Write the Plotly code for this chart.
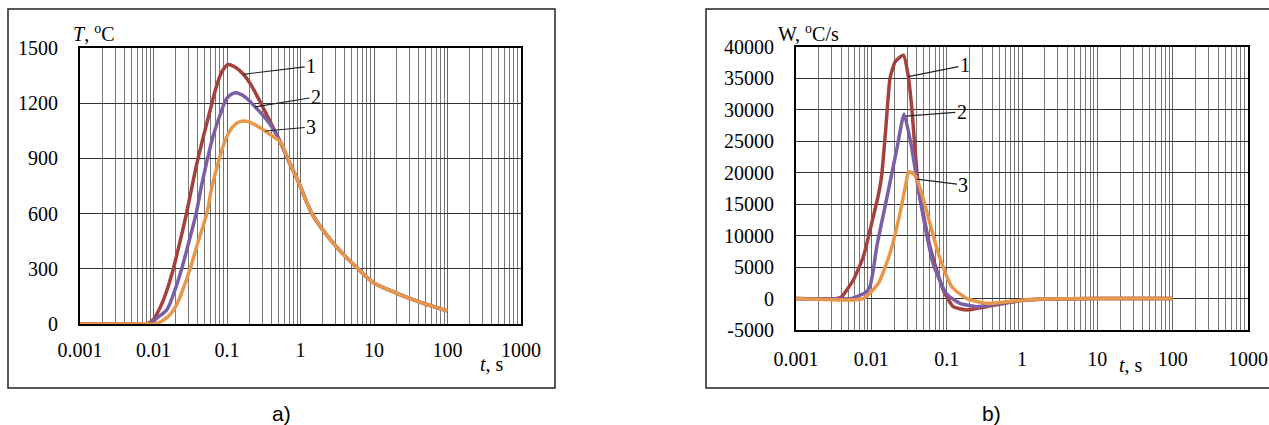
import plotly.graph_objects as go
import math

# ---------------- data: panel a) temperature T, °C vs t, s ----------------
t_a1 = [0.001, 0.005, 0.0081, 0.01, 0.0125, 0.015, 0.0186, 0.023, 0.0284, 0.0388, 0.0478, 0.0589,
        0.0711, 0.085, 0.104, 0.13, 0.167, 0.206, 0.282, 0.386, 0.529, 0.72, 0.891, 1.0, 1.43, 2.81,
        6.15, 9.8, 20.5, 47.2, 100]
T_a1 = [0, 0, 0, 25, 95, 175, 300, 450, 610, 870, 1020, 1160,
        1285, 1370, 1410, 1395, 1357, 1308, 1208, 1100, 991, 870, 792, 746, 600, 438,
        297, 225, 167, 112, 71]

t_a2 = [0.001, 0.006, 0.009, 0.011, 0.0151, 0.019, 0.0242, 0.03, 0.038, 0.0444, 0.053, 0.0653,
        0.0805, 0.0993, 0.129, 0.16, 0.2, 0.241, 0.3, 0.386, 0.529, 0.72, 0.891, 1.0, 1.43, 2.81,
        6.15, 9.8, 20.5, 47.2, 100]
T_a2 = [0, 0, 0, 31, 76, 170, 300, 440, 600, 740, 880, 1027,
        1136, 1226, 1257, 1245, 1215, 1180, 1140, 1085, 991, 870, 792, 746, 600, 438,
        297, 225, 167, 112, 71]

t_a3 = [0.001, 0.008, 0.0105, 0.0158, 0.02, 0.025, 0.0315, 0.04, 0.053, 0.062, 0.0764, 0.094,
        0.116, 0.14, 0.171, 0.21, 0.26, 0.33, 0.386, 0.529, 0.72, 0.891, 1.0, 1.43, 2.81,
        6.15, 9.8, 20.5, 47.2, 100]
T_a3 = [0, 0, 0, 40, 94, 185, 300, 440, 600, 740, 880, 995,
        1065, 1095, 1103, 1095, 1075, 1049, 1030, 991, 870, 792, 746, 600, 438,
        297, 225, 167, 112, 71]

# ---------------- data: panel b) heating rate W, °C/s vs t, s ----------------
t_b1 = [0.001, 0.0035, 0.00404, 0.00577, 0.00783, 0.0101, 0.0124, 0.0137, 0.0155, 0.0177,
        0.0206, 0.0235, 0.0267, 0.031, 0.0343, 0.042, 0.06, 0.09, 0.1224, 0.1845, 0.34,
        1.0, 2.0, 10, 100]
W_b1 = [0, 0, 300, 2950, 6655, 11966, 16500, 19500, 26800, 35000,
        37600, 38300, 38700, 35300, 30500, 18000, 8245, 1361, -1289, -1820, -1289,
        -300, -100, 0, 0]

t_b2 = [0.001, 0.0055, 0.0064, 0.0085, 0.0096, 0.0105, 0.0118, 0.0152, 0.0186, 0.022, 0.0272,
        0.0343, 0.044, 0.0665, 0.1, 0.15, 0.25, 0.5, 1.0, 2.0, 10, 100]
W_b2 = [0, 0, 300, 1000, 1950, 4200, 8245, 14620, 19760, 24020, 29342,
        24000, 16000, 5470, 700, -750, -1290, -800, -250, -80, 0, 0]

t_b3 = [0.001, 0.0078, 0.0124, 0.0177, 0.024, 0.0294, 0.031, 0.036, 0.040, 0.0466,
        0.0775, 0.117, 0.185, 0.34, 1.0, 2.0, 10, 100]
W_b3 = [0, 0, 2426, 7196, 13555, 18850, 20170, 19900, 19000, 16740,
        7196, 1885, 0, -760, -250, -80, 0, 0]

# curve label positions: (point on curve t, value) -> (label t, value)
labels = ["1", "2", "3"]
lab_a_pt = [(0.167, 1357), (0.241, 1180), (0.33, 1049)]
lab_a_txt = [(1.40, 1402), (1.63, 1234), (1.40, 1071)]
lab_b_pt = [(0.031, 35300), (0.0286, 29000), (0.040, 19000)]
lab_b_txt = [(0.175, 37100), (0.159, 29700), (0.167, 18050)]

yticks_a = [0, 300, 600, 900, 1200, 1500]
yticks_b = [-5000, 0, 5000, 10000, 15000, 20000, 25000, 30000, 35000, 40000]
xticks = [0.001, 0.01, 0.1, 1, 10, 100, 1000]
xtick_text = ["0.001", "0.01", "0.1", "1", "10", "100", "1000"]

colors = ["#A4413E", "#7B5FA6", "#E8974A"]

W, H = 1269, 425
SERIF = "Liberation Serif, Times New Roman, serif"


def px(x):
    return x / W


def py(y):
    return 1 - y / H


fig = go.Figure()
for tt, vv, c in zip([t_a1, t_a2, t_a3], [T_a1, T_a2, T_a3], colors):
    fig.add_trace(go.Scatter(x=tt, y=vv, mode="lines", xaxis="x", yaxis="y",
                             line=dict(color=c, width=3.5, shape="spline", smoothing=0.85),
                             showlegend=False, hoverinfo="skip"))
for tt, vv, c in zip([t_b1, t_b2, t_b3], [W_b1, W_b2, W_b3], colors):
    fig.add_trace(go.Scatter(x=tt, y=vv, mode="lines", xaxis="x2", yaxis="y2",
                             line=dict(color=c, width=3.5, shape="spline", smoothing=0.5),
                             showlegend=False, hoverinfo="skip"))

common_x = dict(type="log", range=[-3, 3], tickvals=xticks, ticktext=xtick_text,
                showgrid=True, gridcolor="#666", gridwidth=1,
                minor=dict(dtick="D1", showgrid=True, gridcolor="#777", gridwidth=1, ticks=""),
                showline=True, linecolor="black", linewidth=2, mirror=True,
                ticks="outside", tickcolor="rgba(0,0,0,0)",
                tickfont=dict(family=SERIF, size=20, color="black"), zeroline=False,
                automargin=False, fixedrange=True)
common_y = dict(showgrid=True, gridcolor="#333", gridwidth=1,
                showline=True, linecolor="black", linewidth=2, mirror=True,
                ticks="outside", ticklen=16, tickcolor="rgba(0,0,0,0)",
                tickfont=dict(family=SERIF, size=20, color="black"), zeroline=False,
                automargin=False, fixedrange=True)

fig.update_layout(
    width=W, height=H, margin=dict(l=0, r=0, t=0, b=0, autoexpand=False),
    paper_bgcolor="white", plot_bgcolor="white",
    xaxis=dict(domain=[px(80), px(521)], anchor="y", ticklen=7, **common_x),
    yaxis=dict(domain=[py(324), py(48)], anchor="x", range=[0, 1500], tickvals=yticks_a,
               ticktext=[str(v) for v in yticks_a], **common_y),
    xaxis2=dict(domain=[px(796), px(1248)], anchor="y2", ticklen=10, **common_x),
    yaxis2=dict(domain=[py(330), py(47)], anchor="x2", range=[-5000, 40000], tickvals=yticks_b,
                ticktext=[str(v) for v in yticks_b], **common_y),
)

annotations = []
for lab, (pt, tx) in zip(labels, zip(lab_a_pt, lab_a_txt)):
    annotations.append(dict(x=math.log10(pt[0]), y=pt[1], ax=math.log10(tx[0]), ay=tx[1],
                            xref="x", yref="y", axref="x", ayref="y", text=lab,
                            showarrow=True, arrowhead=0, arrowwidth=1.2, arrowcolor="#222",
                            standoff=0, startstandoff=0,
                            font=dict(family=SERIF, size=20, color="black")))
for lab, (pt, tx) in zip(labels, zip(lab_b_pt, lab_b_txt)):
    annotations.append(dict(x=math.log10(pt[0]), y=pt[1], ax=math.log10(tx[0]), ay=tx[1],
                            xref="x2", yref="y2", axref="x2", ayref="y2", text=lab,
                            showarrow=True, arrowhead=0, arrowwidth=1.2, arrowcolor="#222",
                            standoff=0, startstandoff=0,
                            font=dict(family=SERIF, size=20, color="black")))

texts = [
    ("<i>T</i>, <sup>o</sup>C", 71, 33, "left", SERIF, 20),
    ("W, <sup>o</sup>C/s", 776, 33, "left", SERIF, 20),
    ("<i>t</i>, s", 492, 364, "center", SERIF, 20),
    ("<i>t</i>, s", 1131, 365, "center", SERIF, 20),
    ("a)", 281, 413, "center", "Liberation Sans, Arial, sans-serif", 21),
    ("b)", 991, 413, "center", "Liberation Sans, Arial, sans-serif", 21),
]
for txt, x, y, anc, fam, sz in texts:
    annotations.append(dict(text=txt, x=px(x), y=py(y), xref="paper", yref="paper",
                            xanchor=anc, yanchor="middle", showarrow=False,
                            font=dict(family=fam, size=sz, color="black")))
fig.update_layout(annotations=annotations)

fig.update_layout(shapes=[
    dict(type="rect", xref="paper", yref="paper", x0=px(8), x1=px(555), y0=py(388), y1=py(9),
         line=dict(color="#222", width=1.5)),
    dict(type="rect", xref="paper", yref="paper", x0=px(706), x1=px(1275), y0=py(388), y1=py(9),
         line=dict(color="#222", width=1.5)),
])

fig.write_html("out.html", config={"displayModeBar": False},
               post_script="document.body.style.margin='0';")
